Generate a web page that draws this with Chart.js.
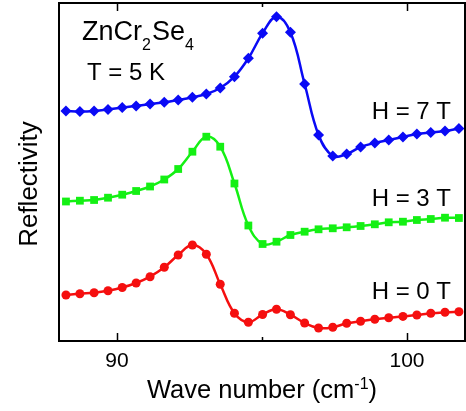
<!DOCTYPE html>
<html>
<head>
<meta charset="utf-8">
<script src="https://cdn.jsdelivr.net/npm/chart.js@4.4.0/dist/chart.umd.min.js"></script>
<style>
  html, body { margin: 0; padding: 0; background: #fff; }
</style>
</head>
<body>
<canvas id="myChart" width="466" height="411"></canvas>
<script>
// wave numbers of the measured points (cm-1)
const waveNumbers = [88.24, 88.72, 89.21, 89.69, 90.18, 90.66, 91.14, 91.63, 92.11, 92.60,
    93.08, 93.56, 94.05, 94.53, 95.02, 95.50, 95.98, 96.47, 96.95, 97.44,
    97.92, 98.40, 98.89, 99.37, 99.86, 100.34, 100.82, 101.31, 101.79];

// reflectivity, arbitrary units, curves shifted for clarity
const refl7T = [230, 229.5, 230, 231.5, 233.5, 235, 237, 238.7, 241, 243.7,
    247, 253, 264.3, 282.7, 307.7, 324.3, 308.7, 257, 206, 185,
    187, 194, 198, 201, 204, 207, 208.5, 210, 212.5];
const refl3T = [139.5, 140.3, 141, 143.3, 146.3, 150, 154.5, 161.5, 172, 189.3,
    204.3, 194.3, 157.5, 115.5, 97, 99.3, 106, 109.3, 111.7, 112.7,
    113.7, 115, 116.7, 118.7, 119.3, 121, 122, 123.3, 123];
const refl0T = [46, 47.3, 48.3, 50.3, 53.5, 58, 64.3, 73.7, 86, 96,
    86.8, 56.7, 27.7, 18.8, 26.5, 31.7, 26.3, 18, 13, 13.7,
    17.7, 19.7, 21.7, 23.3, 24.6, 26, 27.7, 28.7, 29.3];

const seriesLabels = ['H = 7 T', 'H = 3 T', 'H = 0 T'];
const xTickValues = [90, 95, 100];
const xTickLabels = ['90', '', '100'];

const FONT = '"Liberation Sans", Arial, Helvetica, sans-serif';

function toPoints(ys) {
    return ys.map(function (y, i) { return { x: waveNumbers[i], y: y }; });
}

// draws the frame, inward ticks and all the texts
const framePlugin = {
    id: 'frame',
    afterDraw: function (chart) {
        const ctx = chart.ctx;
        const a = chart.chartArea;
        const xs = chart.scales.x;
        ctx.save();

        // box
        ctx.strokeStyle = '#000';
        ctx.lineWidth = 2;
        ctx.strokeRect(a.left, a.top, a.right - a.left, a.bottom - a.top);

        // ticks pointing inward, top and bottom
        ctx.lineWidth = 1.5;
        xTickValues.forEach(function (v, i) {
            const px = Math.round(xs.getPixelForValue(v)) + 0.5;
            const len = xTickLabels[i] === '' ? 4 : 8;
            ctx.beginPath();
            ctx.moveTo(px, a.bottom);
            ctx.lineTo(px, a.bottom - len);
            ctx.moveTo(px, a.top);
            ctx.lineTo(px, a.top + len);
            ctx.stroke();
        });

        // tick labels
        ctx.fillStyle = '#000';
        ctx.font = '21px ' + FONT;
        ctx.textAlign = 'center';
        ctx.textBaseline = 'alphabetic';
        xTickValues.forEach(function (v, i) {
            if (xTickLabels[i] !== '') {
                ctx.fillText(xTickLabels[i], xs.getPixelForValue(v), 367);
            }
        });

        // x axis title with superscript
        ctx.textAlign = 'left';
        const big = '25.5px ' + FONT;
        const sup = '16px ' + FONT;
        ctx.font = big;
        const w1 = ctx.measureText('Wave number (cm').width;
        const w3 = ctx.measureText(')').width;
        ctx.font = sup;
        const w2 = ctx.measureText('-1').width;
        let tx = (a.left + a.right) / 2 - (w1 + w2 + w3) / 2;
        ctx.font = big;
        ctx.fillText('Wave number (cm', tx, 398);
        tx += w1;
        ctx.font = sup;
        ctx.fillText('-1', tx, 389);
        tx += w2;
        ctx.font = big;
        ctx.fillText(')', tx, 398);

        // y axis title
        ctx.save();
        ctx.translate(37, 184);
        ctx.rotate(-Math.PI / 2);
        ctx.textAlign = 'center';
        ctx.font = '26px ' + FONT;
        ctx.fillText('Reflectivity', 0, 0);
        ctx.restore();

        // compound name with subscripts
        const nameParts = [['ZnCr', false], ['2', true], ['Se', false], ['4', true]];
        let nx = 82;
        nameParts.forEach(function (p) {
            ctx.font = (p[1] ? '16px ' : '27px ') + FONT;
            ctx.fillText(p[0], nx, p[1] ? 50 : 40);
            nx += ctx.measureText(p[0]).width + (p[1] ? 1 : 0);
        });

        ctx.font = '24px ' + FONT;
        ctx.fillText('T = 5 K', 87, 80);

        // field labels on the right
        ctx.textAlign = 'right';
        const labelY = [119, 206, 299];
        seriesLabels.forEach(function (t, i) {
            ctx.fillText(t, 451, labelY[i]);
        });

        ctx.restore();
    }
};

const data = {
    datasets: [{
        label: seriesLabels[0],
        data: toPoints(refl7T),
        borderColor: 'rgb(10, 10, 245)',
        backgroundColor: 'rgb(10, 10, 245)',
        pointStyle: 'rectRot',
        pointRadius: 5.5
    }, {
        label: seriesLabels[1],
        data: toPoints(refl3T),
        borderColor: 'rgb(20, 240, 20)',
        backgroundColor: 'rgb(20, 240, 20)',
        pointStyle: 'rect',
        pointRadius: 5.5
    }, {
        label: seriesLabels[2],
        data: toPoints(refl0T),
        borderColor: 'rgb(245, 15, 15)',
        backgroundColor: 'rgb(245, 15, 15)',
        pointStyle: 'circle',
        pointRadius: 4.5
    }]
};

const config = {
    type: 'line',
    data: data,
    options: {
        responsive: false,
        animation: false,
        layout: {
            autoPadding: false,
            padding: { left: 59, top: 3, right: 1, bottom: 70 }
        },
        elements: {
            line: { borderWidth: 2.5, tension: 0.4 },
            point: { borderWidth: 0, hoverRadius: 5 }
        },
        clip: false,
        scales: {
            x: { type: 'linear', min: 88, max: 102, display: false },
            y: { type: 'linear', min: 0, max: 338, display: false }
        },
        plugins: {
            legend: { display: false },
            tooltip: { enabled: false }
        }
    },
    plugins: [framePlugin]
};

var myChartJS = new Chart(document.getElementById('myChart'), config);
</script>
</body>
</html>
